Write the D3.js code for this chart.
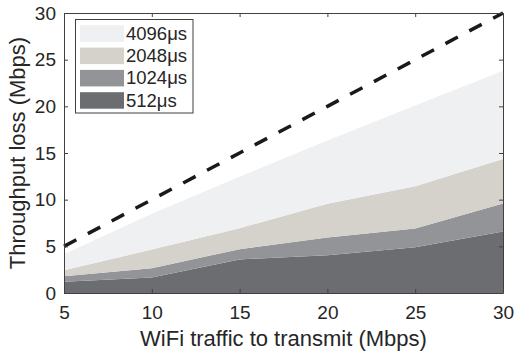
<!DOCTYPE html>
<html>
<head>
<meta charset="utf-8">
<script src="https://cdn.jsdelivr.net/npm/d3@7"></script>
<style>
  body { margin: 0; background: #fff; }
  svg { display: block; font-family: "Liberation Sans", Arial, Helvetica, sans-serif; }
</style>
</head>
<body>
<svg id="chart"></svg>
<script>
// WiFi traffic to transmit (Mbps)
const traffic = [5, 10, 15, 20, 25, 30];
// throughput loss per band (stacked, Mbps)
const loss512 = [1.2, 1.65, 3.6, 4.05, 4.9, 6.6];
const loss1024 = [0.6, 1.0, 1.1, 1.9, 2.0, 3.0];
const loss2048 = [0.65, 2.0, 2.25, 3.6, 4.55, 4.75];
const loss4096 = [1.7, 3.85, 5.5, 6.8, 8.65, 9.45];
// reference line: all traffic lost
const totalLoss = [5, 10, 15, 20, 25, 30];
const seriesNames = ['512μs', '1024μs', '2048μs', '4096μs'];
const xTicks = [5, 10, 15, 20, 25, 30];
const yTicks = [0, 5, 10, 15, 20, 25, 30];

function drawChart() {
    const width = 514;
    const height = 351;
    const margin = { top: 13, right: 11, bottom: 58, left: 64 };
    const textColor = '#262626';
    const colors = { '512μs': '#6c6d71', '1024μs': '#939498', '2048μs': '#d5d1cb', '4096μs': '#eff0f2' };

    const svg = d3.select('#chart')
        .attr('width', width)
        .attr('height', height);

    const x = d3.scaleLinear()
        .domain([5, 30])
        .range([margin.left, width - margin.right]);

    const y = d3.scaleLinear()
        .domain([0, 30])
        .range([height - margin.bottom, margin.top]);

    // build table for the stack
    const table = traffic.map((t, i) => ({
        traffic: t,
        '512μs': loss512[i],
        '1024μs': loss1024[i],
        '2048μs': loss2048[i],
        '4096μs': loss4096[i]
    }));

    const stacked = d3.stack().keys(seriesNames)(table);

    const area = d3.area()
        .x(d => x(d.data.traffic))
        .y0(d => y(d[0]))
        .y1(d => y(d[1]));

    svg.append('g')
        .selectAll('path')
        .data(stacked)
        .join('path')
        .attr('fill', d => colors[d.key])
        .attr('d', area);

    // dashed total line
    const line = d3.line()
        .x((d, i) => x(traffic[i]))
        .y(d => y(d));

    svg.append('path')
        .datum(totalLoss)
        .attr('fill', 'none')
        .attr('stroke', '#1a1a1a')
        .attr('stroke-width', 3.5)
        .attr('stroke-dasharray', '14,13')
        .attr('d', line);

    // axes (ticks point inward, box all round)
    const axisColor = '#404040';
    const styleAxis = g => {
        g.select('.domain').attr('stroke', axisColor);
        g.selectAll('.tick line').attr('stroke', axisColor);
        g.selectAll('.tick text').attr('fill', textColor).style('font-size', '19px');
    };

    svg.append('g')
        .attr('transform', `translate(0,${height - margin.bottom})`)
        .call(d3.axisBottom(x).tickValues(xTicks).tickSizeInner(-4).tickSizeOuter(0).tickPadding(12.5))
        .call(styleAxis);

    svg.append('g')
        .attr('transform', `translate(${margin.left},0)`)
        .call(d3.axisLeft(y).tickValues(yTicks).tickSizeInner(-4).tickSizeOuter(0).tickPadding(8))
        .call(styleAxis);

    svg.append('g')
        .attr('transform', `translate(0,${margin.top})`)
        .call(d3.axisTop(x).tickValues(xTicks).tickSizeInner(-4).tickSizeOuter(0).tickFormat(''))
        .call(styleAxis);

    svg.append('g')
        .attr('transform', `translate(${width - margin.right},0)`)
        .call(d3.axisRight(y).tickValues(yTicks).tickSizeInner(-4).tickSizeOuter(0).tickFormat(''))
        .call(styleAxis);

    // axis titles
    svg.append('text')
        .attr('x', (margin.left + width - margin.right) / 2)
        .attr('y', 346)
        .attr('text-anchor', 'middle')
        .attr('fill', textColor)
        .style('font-size', '22px')
        .text('WiFi traffic to transmit (Mbps)');

    svg.append('text')
        .attr('transform', `translate(25,${(margin.top + height - margin.bottom) / 2}) rotate(-90)`)
        .attr('text-anchor', 'middle')
        .attr('fill', textColor)
        .style('font-size', '22px')
        .text('Throughput loss (Mbps)');

    // legend, largest band on top
    const legend = svg.append('g');
    legend.append('rect')
        .attr('x', 75.5)
        .attr('y', 19.5)
        .attr('width', 117.5)
        .attr('height', 93.5)
        .attr('fill', '#fff')
        .attr('stroke', axisColor)
        .attr('stroke-width', 1);

    const legendOrder = seriesNames.slice().reverse();
    const rows = legend.selectAll('g.row')
        .data(legendOrder)
        .join('g')
        .attr('class', 'row')
        .attr('transform', (d, i) => `translate(0,${25.3 + i * 22.3})`);

    rows.append('rect')
        .attr('x', 80)
        .attr('y', 0)
        .attr('width', 44)
        .attr('height', 16.5)
        .attr('fill', d => colors[d]);

    rows.append('text')
        .attr('x', 126)
        .attr('y', 14.5)
        .attr('fill', textColor)
        .style('font-size', '18.5px')
        .text(d => d);
}

drawChart();
</script>
</body>
</html>
